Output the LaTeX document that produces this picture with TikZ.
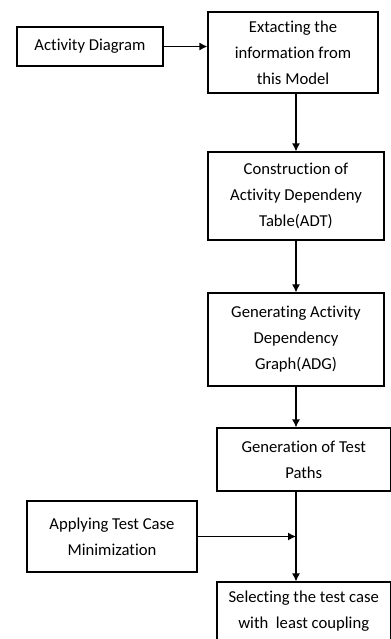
\documentclass[tikz,border=0pt]{standalone}
\usepackage{fontspec}
\setmainfont{Carlito}[Ligatures=NoCommon]
\usetikzlibrary{shapes,calc,arrows.meta}

\begin{document}
\begin{tikzpicture}[x=0.75pt, y=-0.75pt, >={Latex[length=6pt,width=6pt]}, line width=0.9pt,
  box/.style={draw, rectangle, align=center, inner sep=0pt, font=\fontsize{12.5}{19.5}\selectfont}]
  \useasboundingbox (0,0) rectangle (391,639);
  \clip (0,0) rectangle (391,639);
  \node[box, minimum width=109.5pt, minimum height=29.25pt] (actdiag) at (90,46.5) {Activity Diagram};
  \node[box, minimum width=127.5pt, minimum height=60.75pt] (extract) at (293,52.5) {Extacting the\\information from\\this Model};
  \node[box, minimum width=132pt, minimum height=66pt] (adt) at (296,196) {Construction of\\Activity Dependeny\\Table(ADT)};
  \node[box, minimum width=132pt, minimum height=69.75pt] (adg) at (296,339.5) {Generating Activity\\Dependency\\Graph(ADG)};
  \node[box, minimum width=130pt, minimum height=47.25pt] (paths) at (303.75,459.5) {Generation of Test\\Paths};
  \node[box, minimum width=127.5pt, minimum height=53.25pt] (minim) at (112,536.5) {Applying Test Case\\Minimization};
  \node[box, minimum width=130pt, minimum height=44.25pt] (select) at (303.75,611.5) {Selecting the test case\\with\ \ least coupling};
  \coordinate (join) at (minim.east -| adg.south);
  \draw[->] (actdiag.east) -- (actdiag.east -| extract.west);
  \draw[->] (extract.south -| adt.north) -- (adt.north);
  \draw[->] (adt.south) -- (adg.north);
  \draw[->] (adg.south) -- (adg.south |- paths.north);
  \draw[->] (paths.south -| join) -- (join |- select.north);
  \draw[->] (minim.east) -- (join);
\end{tikzpicture}
\end{document}
